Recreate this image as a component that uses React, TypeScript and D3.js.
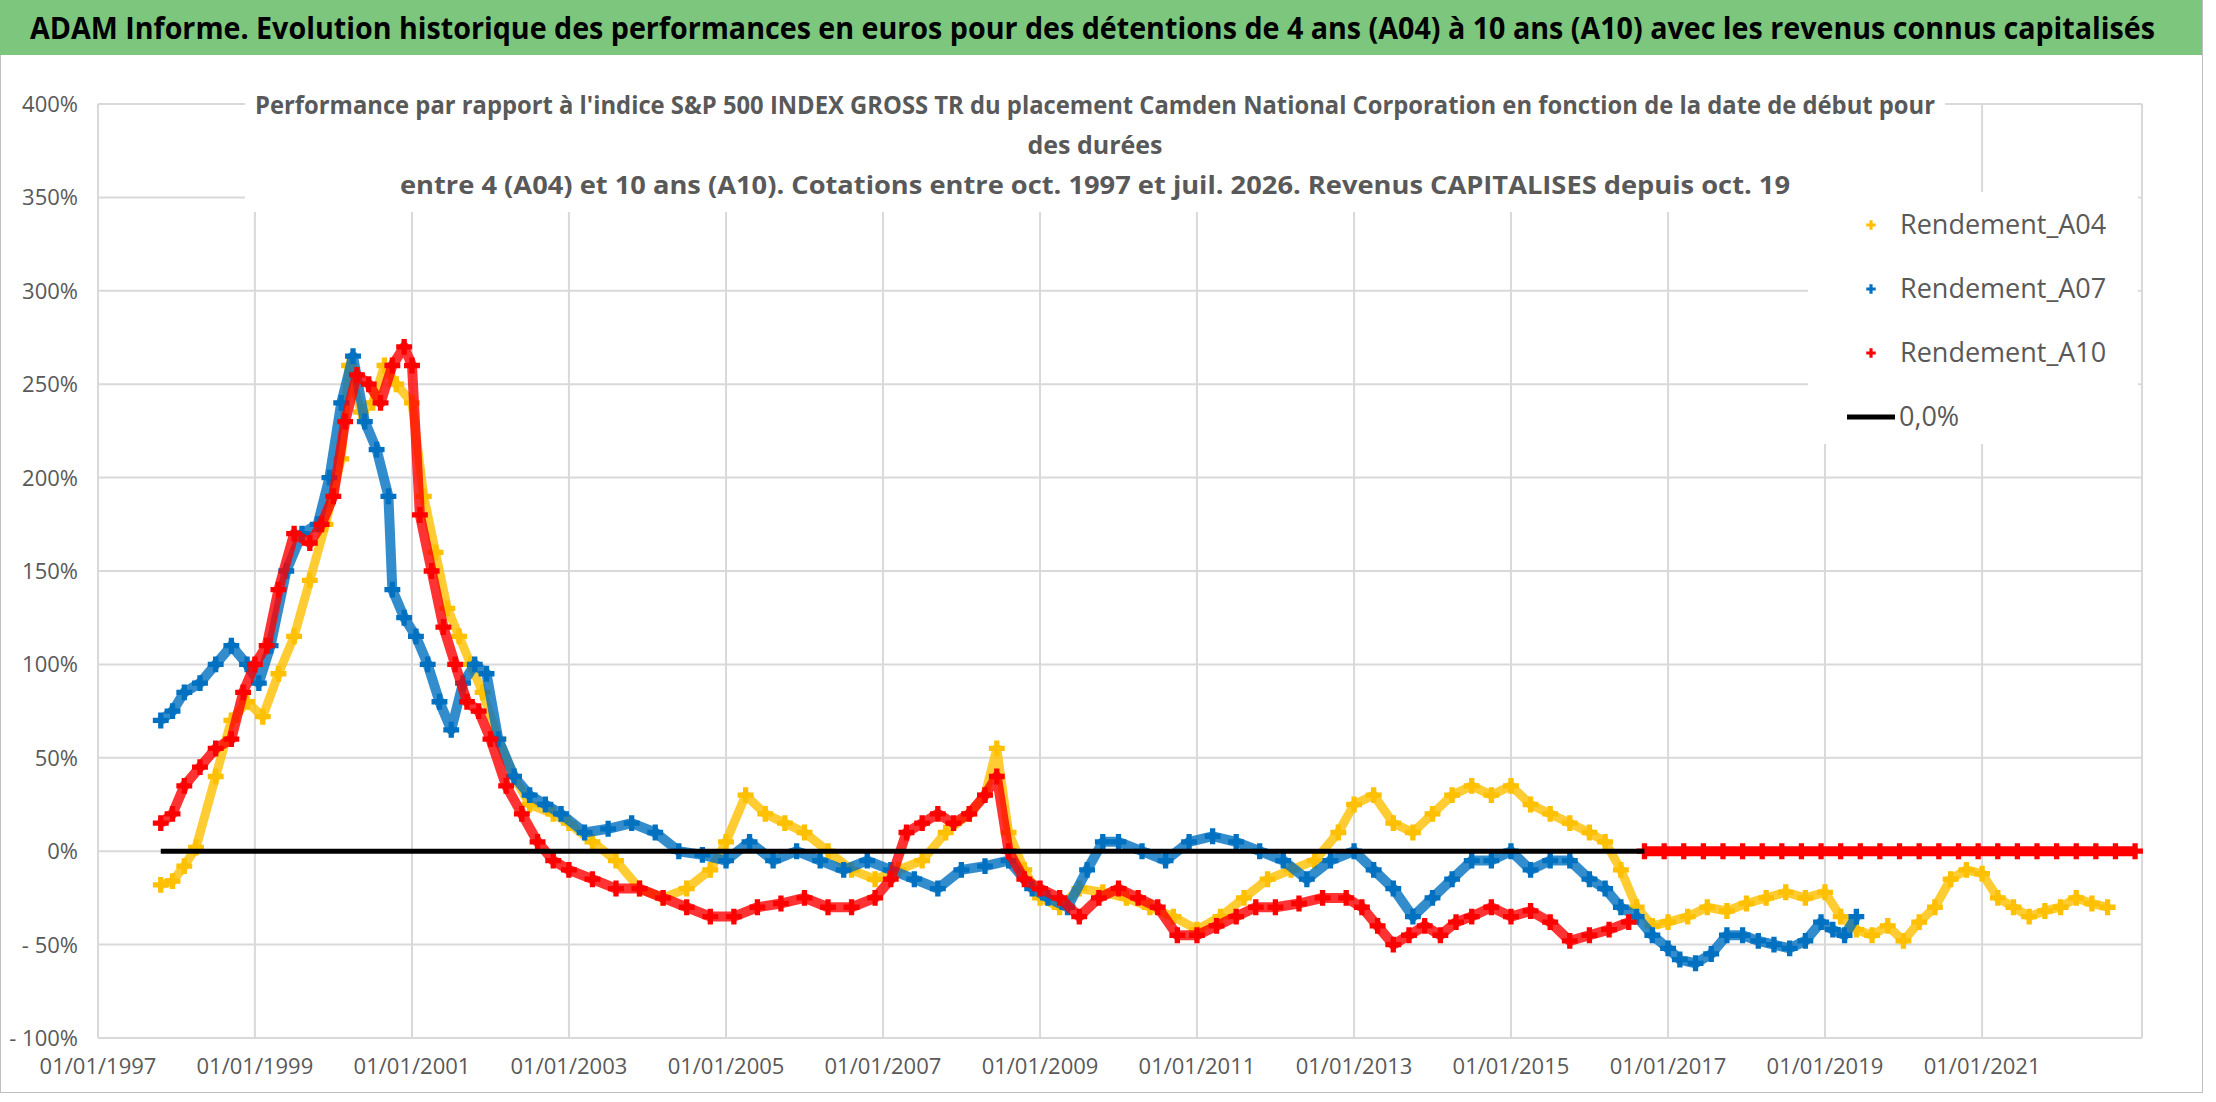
import { useEffect, useRef } from "react";
import * as d3 from "d3";

// [decimal year, performance %]
const rendementA04: [number, number][] = [
  [1997.8, -18], [1997.95, -16], [1998.1, -8], [1998.25, 2], [1998.5, 40], [1998.7, 70], [1998.9, 80],
  [1999.1, 72], [1999.3, 95], [1999.5, 115], [1999.7, 145], [1999.9, 175], [2000.1, 210], [2000.2, 260],
  [2000.35, 235], [2000.5, 240], [2000.65, 260], [2000.8, 250], [2001.0, 240], [2001.15, 190], [2001.3, 160],
  [2001.45, 130], [2001.6, 115], [2001.75, 100], [2001.9, 85], [2002.1, 60], [2002.3, 40], [2002.5, 25],
  [2002.8, 20], [2003.0, 15], [2003.3, 5], [2003.6, -5], [2003.9, -20], [2004.2, -25], [2004.5, -20],
  [2004.8, -10], [2005.0, 5], [2005.25, 30], [2005.5, 20], [2005.75, 15], [2006.0, 10], [2006.3, 0],
  [2006.6, -10], [2006.9, -15], [2007.2, -10], [2007.5, -5], [2007.8, 10], [2008.1, 20], [2008.3, 30],
  [2008.45, 55], [2008.6, 10], [2008.8, -10], [2009.0, -25], [2009.25, -30], [2009.5, -20], [2009.8, -22],
  [2010.1, -25], [2010.4, -30], [2010.7, -35], [2011.0, -42], [2011.3, -35], [2011.6, -25], [2011.9, -15],
  [2012.2, -10], [2012.5, -5], [2012.8, 10], [2013.0, 25], [2013.25, 30], [2013.5, 15], [2013.75, 10],
  [2014.0, 20], [2014.25, 30], [2014.5, 35], [2014.75, 30], [2015.0, 35], [2015.25, 25], [2015.5, 20],
  [2015.75, 15], [2016.0, 10], [2016.2, 5], [2016.4, -10], [2016.6, -30], [2016.8, -40], [2017.0, -38],
  [2017.25, -35], [2017.5, -30], [2017.75, -32], [2018.0, -28], [2018.25, -25], [2018.5, -22], [2018.75, -25],
  [2019.0, -22], [2019.2, -35], [2019.4, -42], [2019.6, -45], [2019.8, -40], [2020.0, -48], [2020.2, -38],
  [2020.4, -30], [2020.6, -15], [2020.8, -10], [2021.0, -12], [2021.2, -25], [2021.4, -30], [2021.6, -35],
  [2021.8, -32], [2022.0, -30], [2022.2, -25], [2022.4, -28], [2022.6, -30],
];

const rendementA07: [number, number][] = [
  [1997.8, 70], [1997.95, 75], [1998.1, 85], [1998.3, 90], [1998.5, 100], [1998.7, 110], [1998.9, 100],
  [1999.05, 90], [1999.2, 110], [1999.4, 150], [1999.6, 170], [1999.8, 175], [1999.95, 200], [2000.1, 240],
  [2000.25, 265], [2000.4, 230], [2000.55, 215], [2000.7, 190], [2000.75, 140], [2000.9, 125], [2001.05, 115],
  [2001.2, 100], [2001.35, 80], [2001.5, 65], [2001.65, 90], [2001.8, 100], [2001.95, 95], [2002.1, 60],
  [2002.3, 40], [2002.5, 30], [2002.7, 25], [2002.9, 20], [2003.2, 10], [2003.5, 12], [2003.8, 15],
  [2004.1, 10], [2004.4, 0], [2004.7, -2], [2005.0, -5], [2005.3, 5], [2005.6, -5], [2005.9, 0],
  [2006.2, -5], [2006.5, -10], [2006.8, -5], [2007.1, -10], [2007.4, -15], [2007.7, -20], [2008.0, -10],
  [2008.3, -8], [2008.6, -5], [2008.9, -20], [2009.1, -25], [2009.35, -30], [2009.6, -10], [2009.8, 5],
  [2010.0, 5], [2010.3, 0], [2010.6, -5], [2010.9, 5], [2011.2, 8], [2011.5, 5], [2011.8, 0], [2012.1, -5],
  [2012.4, -15], [2012.7, -5], [2013.0, 0], [2013.25, -10], [2013.5, -20], [2013.75, -35], [2014.0, -25],
  [2014.25, -15], [2014.5, -5], [2014.75, -5], [2015.0, 0], [2015.25, -10], [2015.5, -5], [2015.75, -5],
  [2016.0, -15], [2016.2, -20], [2016.4, -30], [2016.6, -35], [2016.8, -45], [2017.0, -52], [2017.15, -58],
  [2017.35, -60], [2017.55, -55], [2017.75, -45], [2017.95, -45], [2018.15, -48], [2018.35, -50],
  [2018.55, -52], [2018.75, -48], [2018.95, -38], [2019.1, -42], [2019.25, -45], [2019.4, -35],
];

const rendementA10: [number, number][] = [
  [1997.8, 15], [1997.95, 20], [1998.1, 35], [1998.3, 45], [1998.5, 55], [1998.7, 60], [1998.85, 85],
  [1999.0, 100], [1999.15, 110], [1999.3, 140], [1999.5, 170], [1999.7, 165], [1999.85, 175], [2000.0, 190],
  [2000.15, 230], [2000.3, 255], [2000.45, 250], [2000.6, 240], [2000.75, 260], [2000.9, 270], [2001.0, 260],
  [2001.1, 180], [2001.25, 150], [2001.4, 120], [2001.55, 100], [2001.7, 80], [2001.85, 75], [2002.0, 60],
  [2002.2, 35], [2002.4, 20], [2002.6, 5], [2002.8, -5], [2003.0, -10], [2003.3, -15], [2003.6, -20],
  [2003.9, -20], [2004.2, -25], [2004.5, -30], [2004.8, -35], [2005.1, -35], [2005.4, -30], [2005.7, -28],
  [2006.0, -25], [2006.3, -30], [2006.6, -30], [2006.9, -25], [2007.1, -15], [2007.3, 10], [2007.5, 15],
  [2007.7, 20], [2007.9, 15], [2008.1, 20], [2008.3, 30], [2008.45, 40], [2008.6, 0], [2008.8, -15],
  [2009.0, -20], [2009.25, -25], [2009.5, -35], [2009.75, -25], [2010.0, -20], [2010.25, -25], [2010.5, -30],
  [2010.75, -45], [2011.0, -45], [2011.25, -40], [2011.5, -35], [2011.75, -30], [2012.0, -30], [2012.3, -28],
  [2012.6, -25], [2012.9, -25], [2013.1, -30], [2013.3, -40], [2013.5, -50], [2013.7, -45], [2013.9, -40],
  [2014.1, -45], [2014.3, -38], [2014.5, -35], [2014.75, -30], [2015.0, -35], [2015.25, -32], [2015.5, -38],
  [2015.75, -48], [2016.0, -45], [2016.25, -42], [2016.5, -38],
  [2016.7, 0], [2016.95, 0], [2017.2, 0], [2017.45, 0], [2017.7, 0], [2017.95, 0], [2018.2, 0], [2018.45, 0],
  [2018.7, 0], [2018.95, 0], [2019.2, 0], [2019.45, 0], [2019.7, 0], [2019.95, 0], [2020.2, 0], [2020.45, 0],
  [2020.7, 0], [2020.95, 0], [2021.2, 0], [2021.45, 0], [2021.7, 0], [2021.95, 0], [2022.2, 0], [2022.45, 0],
  [2022.7, 0], [2022.95, 0],
];

const zeroLine: [number, number][] = [[1997.8, 0], [2016.7, 0]];

const yTicks = [-100, -50, 0, 50, 100, 150, 200, 250, 300, 350, 400];
const xTickYears = [1997, 1999, 2001, 2003, 2005, 2007, 2009, 2011, 2013, 2015, 2017, 2019, 2021];

const series = [
  { name: "Rendement_A04", color: "#FFC000", data: rendementA04, lineW: 9 },
  { name: "Rendement_A07", color: "#0070C0", data: rendementA07, lineW: 10 },
  { name: "Rendement_A10", color: "#FF0000", data: rendementA10, lineW: 10 },
];

const toDate = (y: number) => {
  const yr = Math.floor(y);
  const start = new Date(yr, 0, 1).getTime();
  const end = new Date(yr + 1, 0, 1).getTime();
  return new Date(start + (y - yr) * (end - start));
};

const FONT = "'Open Sans', Arial, sans-serif";

export default function App() {
  const ref = useRef<SVGSVGElement | null>(null);

  useEffect(() => {
    const svg = d3.select(ref.current!);
    svg.selectAll("*").remove();
    const W = 2216, H = 1102;
    const left = 98, right = 2142, top = 104, bottom = 1038;

    const x = d3.scaleTime().domain([new Date(1997, 0, 1), new Date(2023, 0, 15)]).range([left, right]);
    const y = d3.scaleLinear().domain([-100, 400]).range([bottom, top]);

    svg.append("rect").attr("width", W).attr("height", H).attr("fill", "#fff");
    svg.append("rect").attr("x", 0.5).attr("y", 0.5).attr("width", W - 14).attr("height", H - 10)
      .attr("fill", "none").attr("stroke", "#bfbfbf");

    // header band
    svg.append("rect").attr("x", 0).attr("y", 0).attr("width", W - 14).attr("height", 55).attr("fill", "#7DC67E");
    svg.append("text").attr("x", 30).attr("y", 39).attr("font-family", FONT).attr("font-weight", "bold")
      .attr("font-size", 30).attr("fill", "#000").attr("textLength", 2125).attr("lengthAdjust", "spacingAndGlyphs")
      .text("ADAM Informe. Evolution historique des performances en euros pour des détentions de 4 ans (A04) à 10 ans (A10) avec les revenus connus capitalisés");

    // grid
    const g = svg.append("g");
    g.selectAll("line.h").data(yTicks).enter().append("line")
      .attr("x1", left).attr("x2", right).attr("y1", (d) => y(d)).attr("y2", (d) => y(d))
      .attr("stroke", "#d9d9d9").attr("stroke-width", 2);
    g.selectAll("line.v").data(xTickYears).enter().append("line")
      .attr("x1", (d) => x(new Date(d, 0, 1))).attr("x2", (d) => x(new Date(d, 0, 1)))
      .attr("y1", top).attr("y2", bottom).attr("stroke", "#d9d9d9").attr("stroke-width", 2);
    g.append("line").attr("x1", right).attr("x2", right).attr("y1", top).attr("y2", bottom)
      .attr("stroke", "#d9d9d9").attr("stroke-width", 2);

    // axis labels
    svg.selectAll("text.yt").data(yTicks).enter().append("text")
      .attr("x", 78).attr("y", (d) => y(d) + 8).attr("text-anchor", "end")
      .attr("font-family", FONT).attr("font-size", 22).attr("fill", "#595959")
      .text((d) => (d < 0 ? `- ${Math.abs(d)}%` : `${d}%`));
    svg.selectAll("text.xt").data(xTickYears).enter().append("text")
      .attr("x", (d) => x(new Date(d, 0, 1))).attr("y", bottom + 36).attr("text-anchor", "middle")
      .attr("font-family", FONT).attr("font-size", 22).attr("fill", "#595959")
      .text((d) => d3.timeFormat("%d/%m/%Y")(new Date(d, 0, 1)));

    // series
    const line = d3.line<[number, number]>().x((d) => x(toDate(d[0]))).y((d) => y(d[1])).curve(d3.curveLinear);
    const cross = d3.symbol().type(d3.symbolCross).size(140);
    series.forEach((s) => {
      const seg = s.name === "Rendement_A10" ? s.data.filter((d) => d[0] < 2016.6) : s.data;
      svg.append("path").attr("d", line(seg)).attr("fill", "none").attr("stroke", s.color)
        .attr("stroke-width", s.lineW).attr("stroke-linejoin", "round").attr("opacity", 0.8);
      svg.append("g").selectAll("path").data(s.data).enter().append("path")
        .attr("d", cross).attr("transform", (d) => `translate(${x(toDate(d[0]))},${y(d[1])})`)
        .attr("fill", s.color);
    });
    // red zero band after 2016.6
    const redZero = rendementA10.filter((d) => d[0] >= 2016.6);
    svg.append("path").attr("d", line(redZero)).attr("fill", "none").attr("stroke", "#FF0000").attr("stroke-width", 10);

    svg.append("path").attr("d", line(zeroLine)).attr("fill", "none").attr("stroke", "#000").attr("stroke-width", 5);

    // chart title with white backing
    svg.append("rect").attr("x", 245).attr("y", 84).attr("width", 1700).attr("height", 128).attr("fill", "#fff");
    const titleLines = [
      "Performance par rapport à l'indice S&P 500 INDEX GROSS TR  du placement Camden National Corporation en fonction de la date de début pour",
      "des durées",
      "entre 4 (A04) et 10 ans (A10). Cotations entre oct. 1997 et juil. 2026. Revenus CAPITALISES depuis oct. 19",
    ];
    const tl = [1680, 0, 1390];
    titleLines.forEach((t, i) => {
      const el = svg.append("text").attr("x", 1095).attr("y", 114 + i * 40).attr("text-anchor", "middle")
        .attr("font-family", FONT).attr("font-weight", "bold").attr("font-size", 25).attr("fill", "#595959")
        .text(t);
      if (tl[i]) el.attr("textLength", tl[i]).attr("lengthAdjust", "spacingAndGlyphs");
    });

    // legend
    svg.append("rect").attr("x", 1808).attr("y", 192).attr("width", 330).attr("height", 252).attr("fill", "#fff");
    const leg = [...series.map((s) => ({ name: s.name, color: s.color, line: false })), { name: "0,0%", color: "#000", line: true }];
    leg.forEach((l, i) => {
      const cy = 225 + i * 64;
      if (l.line) {
        svg.append("line").attr("x1", 1847).attr("x2", 1895).attr("y1", cy).attr("y2", cy)
          .attr("stroke", "#000").attr("stroke-width", 5);
      } else {
        svg.append("path").attr("d", d3.symbol().type(d3.symbolCross).size(50)()).attr("transform", `translate(1871,${cy})`)
          .attr("fill", l.color);
      }
      svg.append("text").attr("x", l.line ? 1899 : 1900).attr("y", cy + 9).attr("font-family", FONT)
        .attr("font-size", 27).attr("fill", "#595959").text(l.name);
    });
  }, []);

  return <svg ref={ref} width={2216} height={1102} style={{ position: "absolute", left: 0, top: 0 }} />;
}
